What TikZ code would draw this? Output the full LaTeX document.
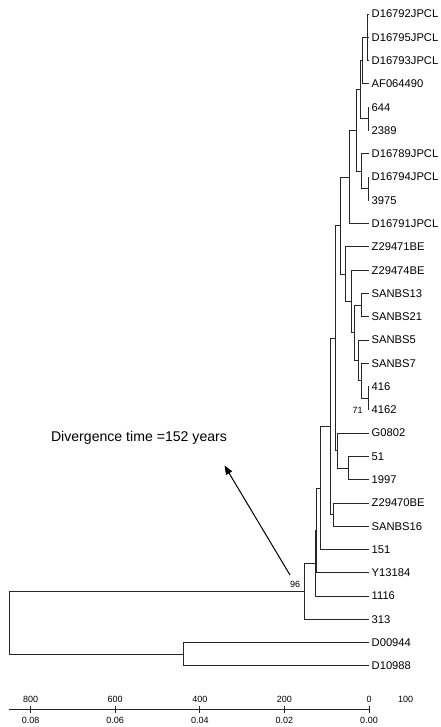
\documentclass[tikz,border=0pt]{standalone}
\usepackage{fontspec}
\setmainfont{Liberation Sans}
\usetikzlibrary{arrows.meta}
\tikzset{
  branch/.style={draw=black!85, line width=0.75pt},
  leaf/.style={anchor=west, xshift=2.5pt, inner sep=0pt, font=\fontsize{11.2}{13}\selectfont, text height=7.9pt, text depth=0pt},
  support/.style={inner sep=0pt, font=\fontsize{9}{11}\selectfont},
  axislab/.style={inner sep=0pt, font=\fontsize{9}{11}\selectfont},
  axisline/.style={draw=black!85, line width=0.75pt},
  arrowline/.style={draw=black, line width=1pt, -{Triangle[length=9pt,width=7pt]}},
  note/.style={inner sep=0pt, font=\fontsize{14.1}{16}\selectfont}
}
\begin{document}
\begin{tikzpicture}[x=1pt,y=-1pt]
\useasboundingbox (0,0) rectangle (441,727);
% leaf tips
\coordinate (t1) at (369,14.0);
\coordinate (t2) at (369,37.3);
\coordinate (t3) at (369,60.6);
\coordinate (t4) at (369,83.8);
\coordinate (t5) at (369,107.1);
\coordinate (t6) at (369,130.4);
\coordinate (t7) at (369,153.7);
\coordinate (t8) at (369,177.0);
\coordinate (t9) at (369,200.2);
\coordinate (t10) at (369,223.5);
\coordinate (t11) at (369,246.8);
\coordinate (t12) at (369,270.1);
\coordinate (t13) at (369,293.4);
\coordinate (t14) at (369,316.6);
\coordinate (t15) at (369,339.9);
\coordinate (t16) at (369,363.2);
\coordinate (t17) at (369,386.5);
\coordinate (t18) at (369,409.8);
\coordinate (t19) at (369,433.0);
\coordinate (t20) at (369,456.3);
\coordinate (t21) at (369,479.6);
\coordinate (t22) at (369,502.9);
\coordinate (t23) at (369,526.2);
\coordinate (t24) at (369,549.4);
\coordinate (t25) at (369,572.7);
\coordinate (t26) at (369,596.0);
\coordinate (t27) at (369,619.3);
\coordinate (t28) at (369,642.6);
\coordinate (t29) at (369,665.8);
% labels
\node[leaf] (n1) at (t1) {D16792JPCL};
\node[leaf] (n2) at (t2) {D16795JPCL};
\node[leaf] (n3) at (t3) {D16793JPCL};
\node[leaf] (n4) at (t4) {AF064490};
\node[leaf] (n5) at (t5) {644};
\node[leaf] (n6) at (t6) {2389};
\node[leaf] (n7) at (t7) {D16789JPCL};
\node[leaf] (n8) at (t8) {D16794JPCL};
\node[leaf] (n9) at (t9) {3975};
\node[leaf] (n10) at (t10) {D16791JPCL};
\node[leaf] (n11) at (t11) {Z29471BE};
\node[leaf] (n12) at (t12) {Z29474BE};
\node[leaf] (n13) at (t13) {SANBS13};
\node[leaf] (n14) at (t14) {SANBS21};
\node[leaf] (n15) at (t15) {SANBS5};
\node[leaf] (n16) at (t16) {SANBS7};
\node[leaf] (n17) at (t17) {416};
\node[leaf] (n18) at (t18) {4162};
\node[leaf] (n19) at (t19) {G0802};
\node[leaf] (n20) at (t20) {51};
\node[leaf] (n21) at (t21) {1997};
\node[leaf] (n22) at (t22) {Z29470BE};
\node[leaf] (n23) at (t23) {SANBS16};
\node[leaf] (n24) at (t24) {151};
\node[leaf] (n25) at (t25) {Y13184};
\node[leaf] (n26) at (t26) {1116};
\node[leaf] (n27) at (t27) {313};
\node[leaf] (n28) at (t28) {D00944};
\node[leaf] (n29) at (t29) {D10988};
% internal nodes
\coordinate (A) at (367.5,37.3);
\coordinate (C) at (362,60.6);
\coordinate (B2) at (368,118.8);
\coordinate (D) at (360.3,89.7);
\coordinate (P2) at (368,188.6);
\coordinate (F) at (361.7,171.2);
\coordinate (E) at (356.7,130.4);
\coordinate (G) at (349,177.0);
\coordinate (M) at (361.7,305.0);
\coordinate (P) at (368,398.2);
\coordinate (O) at (361.7,380.7);
\coordinate (N) at (358.3,360.3);
\coordinate (L) at (354,332.7);
\coordinate (J) at (351,301.4);
\coordinate (I) at (345,274.1);
\coordinate (H) at (340,225.6);
\coordinate (Q) at (348.3,468.0);
\coordinate (R) at (337.7,450.5);
\coordinate (K) at (335,338.0);
\coordinate (T) at (333.3,514.5);
\coordinate (S) at (330,426.3);
\coordinate (U) at (320.5,487.9);
\coordinate (W) at (316.3,530.3);
\coordinate (X) at (315,563.2);
\coordinate (Y) at (304,591.2);
\coordinate (AA) at (183.3,654.2);
\coordinate (Z) at (9.3,622.7);
% branches
\draw[branch] (A) |- (t1); \draw[branch] (A) |- (t2); \draw[branch] (A) |- (t3);
\draw[branch] (C) |- (A); \draw[branch] (C) |- (t4);
\draw[branch] (B2) |- (t5); \draw[branch] (B2) |- (t6);
\draw[branch] (D) |- (C); \draw[branch] (D) |- (B2);
\draw[branch] (P2) |- (t8); \draw[branch] (P2) |- (t9);
\draw[branch] (F) |- (t7); \draw[branch] (F) |- (P2);
\draw[branch] (E) |- (D); \draw[branch] (E) |- (F);
\draw[branch] (G) |- (E); \draw[branch] (G) |- (t10);
\draw[branch] (M) |- (t13); \draw[branch] (M) |- (t14);
\draw[branch] (P) |- (t17); \draw[branch] (P) |- (t18);
\draw[branch] (O) |- (t16); \draw[branch] (O) |- (P);
\draw[branch] (N) |- (t15); \draw[branch] (N) |- (O);
\draw[branch] (L) |- (M); \draw[branch] (L) |- (N);
\draw[branch] (J) |- (t12); \draw[branch] (J) |- (L);
\draw[branch] (I) |- (t11); \draw[branch] (I) |- (J);
\draw[branch] (H) |- (G); \draw[branch] (H) |- (I);
\draw[branch] (Q) |- (t20); \draw[branch] (Q) |- (t21);
\draw[branch] (R) |- (t19); \draw[branch] (R) |- (Q);
\draw[branch] (K) |- (H); \draw[branch] (K) |- (R);
\draw[branch] (T) |- (t22); \draw[branch] (T) |- (t23);
\draw[branch] (S) |- (K); \draw[branch] (S) |- (T);
\draw[branch] (U) |- (S); \draw[branch] (U) |- (t24);
\draw[branch] (W) |- (U); \draw[branch] (W) |- (t25);
\draw[branch] (X) |- (W); \draw[branch] (X) |- (t26);
\draw[branch] (Y) |- (X); \draw[branch] (Y) |- (t27);
\draw[branch] (AA) |- (t28); \draw[branch] (AA) |- (t29);
\draw[branch] (Z) |- (Y); \draw[branch] (Z) |- (AA);
% support values
\node[support] (s96) at (295,584.3) {96};
\node[support] (s71) at (357.6,410.5) {71};
% annotation
\node[note] (div) at (139,438.3) {Divergence time =152 years};
\coordinate (aStart) at (290,575);
\coordinate (aEnd) at (224.5,465.5);
\draw[arrowline] (aStart) -- (aEnd);
% axis
\coordinate (ax0) at (9.3,709.3);
\coordinate (ax1) at (369,709.3);
\draw[axisline] (ax0) -- (ax1);
\foreach \xx/\top/\bot [count=\i] in {30.6/800/0.08, 115.2/600/0.06, 199.8/400/0.04, 284.4/200/0.02, 369/0/0.00}{
  \coordinate (tk\i a) at (\xx,706);
  \coordinate (tk\i b) at (\xx,712.7);
  \draw[axisline] (tk\i a) -- (tk\i b);
  \node[axislab] (tt\i) at (\xx,699.3) {\top};
  \node[axislab] (tb\i) at (\xx,720) {\bot};
}
\node[axislab] (hundred) at (405.7,699.3) {100};
\end{tikzpicture}
\end{document}
